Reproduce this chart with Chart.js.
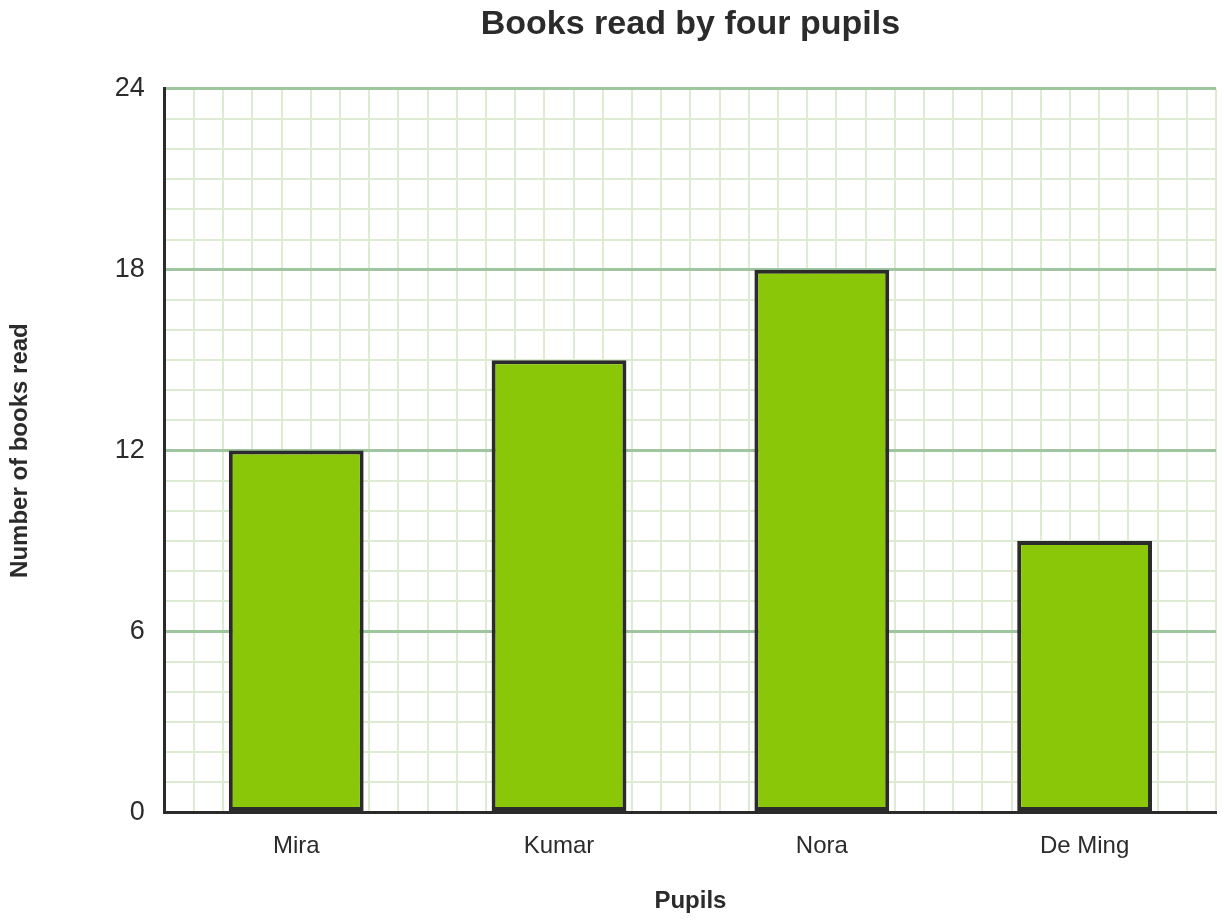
<!DOCTYPE html>
<html lang="en">
<head>
  <meta charset="UTF-8"/>
  <title>Books read by four pupils</title>
  <script src="https://cdn.jsdelivr.net/npm/chart.js"></script>
  <style>
    body {
      margin: 0;
      background: #fff;
    }
    #chart {
      display: block;
    }
  </style>
</head>
<body>
  <canvas id="chart" width="1224" height="922"></canvas>
  <script>
    const pupils = ['Mira', 'Kumar', 'Nora', 'De Ming'];
    const booksRead = [12, 15, 18, 9];
    const yTicks = [0, 6, 12, 18, 24];

    const FONT = "'Liberation Sans', Arial, sans-serif";
    const INK = '#2b2b2b';
    const MAJOR = '#9fc59f';
    const MINOR = '#dcebd2';

    const ctx = document.getElementById('chart').getContext('2d');
    new Chart(ctx, {
      type: 'bar',
      data: {
        labels: pupils,
        datasets: [{
          label: 'Books read',
          data: booksRead,
          backgroundColor: '#8bc709',
          borderColor: INK,
          borderWidth: 4,
          borderSkipped: false,
          barPercentage: 0.513,
          categoryPercentage: 1
        }]
      },
      options: {
        responsive: false,
        devicePixelRatio: 1,
        animation: false,
        layout: { padding: { top: 0, right: 8, bottom: 6, left: 6 } },
        plugins: {
          legend: { display: false },
          tooltip: { enabled: false },
          title: {
            display: true,
            text: 'Books read by four pupils',
            color: INK,
            fullSize: false,
            font: { family: FONT, size: 34, weight: 'bold' },
            padding: { top: 4, bottom: 44 }
          }
        },
        scales: {
          x: {
            grid: { display: false },
            border: { display: true, color: INK, width: 3 },
            ticks: {
              color: INK,
              padding: 12,
              font: { family: FONT, size: 24 }
            },
            title: {
              display: true,
              text: 'Pupils',
              color: INK,
              font: { family: FONT, size: 24, weight: 'bold' },
              padding: { top: 14, bottom: 0 }
            }
          },
          xg: {
            type: 'linear',
            position: 'top',
            min: 0,
            max: 35,
            ticks: { display: false, stepSize: 1 },
            border: { display: false },
            grid: { color: MINOR, lineWidth: 2, drawTicks: false }
          },
          y: {
            min: 0,
            max: 24,
            border: { display: true, color: INK, width: 3 },
            grid: {
              drawTicks: false,
              color: c => (c.tick && c.tick.value % 6 === 0) ? MAJOR : MINOR,
              lineWidth: c => (c.tick && c.tick.value % 6 === 0) ? 3 : 2
            },
            ticks: {
              stepSize: 1,
              autoSkip: false,
              color: INK,
              padding: 20,
              font: { family: FONT, size: 27 },
              callback: v => yTicks.includes(v) ? String(v) : ''
            },
            title: {
              display: true,
              text: 'Number of books read',
              color: INK,
              font: { family: FONT, size: 24, weight: 'bold' },
              padding: { top: 0, bottom: 60 }
            }
          }
        }
      }
    });
  </script>
</body>
</html>
